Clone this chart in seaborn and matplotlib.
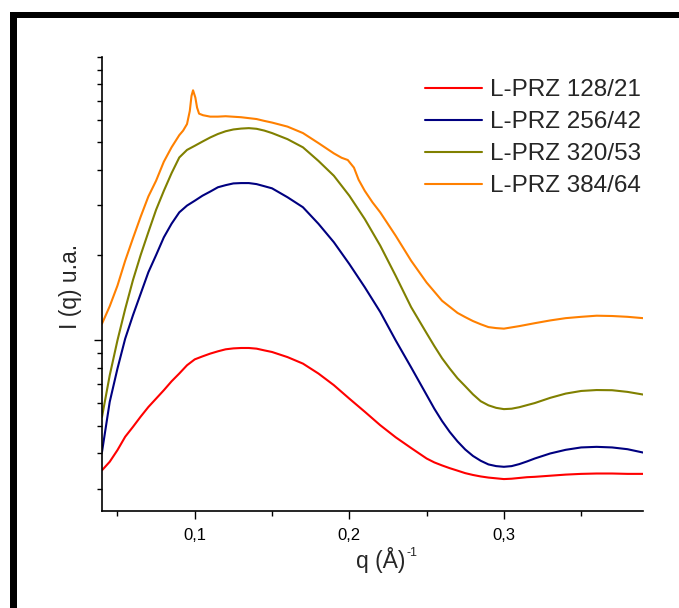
import numpy as np
import pandas as pd
import matplotlib
matplotlib.use("Agg")
import matplotlib.pyplot as plt
import seaborn as sns
from matplotlib.ticker import FixedLocator, NullFormatter
from matplotlib.patches import Rectangle

# ---------------- data (arbitrary units) ----------------
labels = ["L-PRZ 128/21", "L-PRZ 256/42", "L-PRZ 320/53", "L-PRZ 384/64"]
colors = ["#FF0000", "#000080", "#808000", "#FF8000"]

q_common = [0.04, 0.045, 0.05, 0.055, 0.06, 0.065, 0.07, 0.075, 0.08, 0.085, 0.09, 0.095,
            0.10, 0.105, 0.11, 0.115, 0.12, 0.125, 0.13, 0.135, 0.14, 0.145, 0.15,
            0.16, 0.17, 0.18, 0.19, 0.20, 0.21, 0.22, 0.23, 0.24, 0.25, 0.255, 0.26, 0.265, 0.27,
            0.275, 0.28, 0.285, 0.29, 0.295, 0.30, 0.305, 0.31, 0.315, 0.32,
            0.33, 0.34, 0.35, 0.36, 0.37, 0.38, 0.39]

I_128 = [0.348, 0.373, 0.410, 0.457, 0.495, 0.538, 0.582, 0.623, 0.667, 0.717, 0.764, 0.817,
         0.857, 0.878, 0.898, 0.915, 0.930, 0.937, 0.940, 0.940, 0.935, 0.922, 0.910,
         0.873, 0.828, 0.764, 0.695, 0.623, 0.560, 0.502, 0.455, 0.417, 0.383, 0.371, 0.362, 0.354, 0.347,
         0.340, 0.335, 0.331, 0.328, 0.326, 0.324, 0.325, 0.327, 0.329, 0.330,
         0.333, 0.336, 0.338, 0.339, 0.339, 0.338, 0.338]

I_256 = [0.404, 0.607, 0.795, 1.014, 1.225, 1.46, 1.74, 2.00, 2.31, 2.58, 2.83, 2.99,
         3.11, 3.24, 3.35, 3.47, 3.53, 3.58, 3.59, 3.59, 3.56, 3.50, 3.44,
         3.20, 2.95, 2.58, 2.22, 1.86, 1.54, 1.26, 1.00, 0.803, 0.642, 0.574, 0.519, 0.475, 0.440,
         0.412, 0.391, 0.376, 0.365, 0.360, 0.358, 0.360, 0.366, 0.374, 0.383,
         0.399, 0.411, 0.419, 0.421, 0.419, 0.413, 0.402]

I_320 = [0.537, 0.753, 1.00, 1.29, 1.63, 2.00, 2.41, 2.89, 3.37, 3.89, 4.42, 4.70,
         4.86, 5.03, 5.20, 5.35, 5.47, 5.55, 5.59, 5.61, 5.58, 5.50, 5.39,
         5.13, 4.80, 4.30, 3.81, 3.24, 2.68, 2.16, 1.69, 1.31, 1.06, 0.955, 0.865, 0.795, 0.735,
         0.689, 0.645, 0.610, 0.590, 0.578, 0.572, 0.574, 0.581, 0.591, 0.601,
         0.627, 0.649, 0.663, 0.668, 0.667, 0.658, 0.644]

q_384 = [0.04, 0.045, 0.05, 0.055, 0.06, 0.065, 0.07, 0.075, 0.08, 0.085,
         0.09, 0.0925, 0.095, 0.0968, 0.0979, 0.0989, 0.1004, 0.1015, 0.1028, 0.1054,
         0.11, 0.115, 0.12, 0.13, 0.14, 0.145, 0.15, 0.16, 0.17, 0.18,
         0.19, 0.195, 0.199, 0.203, 0.206, 0.21, 0.215, 0.22, 0.23, 0.24,
         0.25, 0.26, 0.27, 0.275, 0.28, 0.285, 0.29, 0.295, 0.30, 0.31,
         0.32, 0.33, 0.34, 0.35, 0.36, 0.37, 0.38, 0.39]
I_384 = [1.145, 1.32, 1.56, 1.91, 2.29, 2.73, 3.22, 3.66, 4.27, 4.80,
         5.30, 5.50, 5.80, 6.45, 7.29, 7.63, 7.19, 6.63, 6.31, 6.23,
         6.16, 6.16, 6.18, 6.13, 6.04, 5.95, 5.87, 5.68, 5.39, 4.97,
         4.57, 4.41, 4.33, 4.07, 3.69, 3.37, 3.07, 2.83, 2.34, 1.91,
         1.60, 1.38, 1.25, 1.208, 1.17, 1.14, 1.114, 1.105, 1.10, 1.123,
         1.15, 1.176, 1.198, 1.211, 1.222, 1.219, 1.211, 1.198]

x_ticks = [0.1, 0.2, 0.3]
x_ticklabels = ["0,1", "0,2", "0,3"]
x_minor = [0.05, 0.15, 0.25, 0.35]
y_major = [1.0]
y_minor = [0.3, 0.4, 0.5, 0.6, 0.7, 0.8, 0.9, 2, 3, 4, 5, 6, 7, 8, 9, 10]

# ---------------- build long-form table ----------------
df = pd.concat([
    pd.DataFrame({"q": q_common, "I": I_128, "sample": labels[0]}),
    pd.DataFrame({"q": q_common, "I": I_256, "sample": labels[1]}),
    pd.DataFrame({"q": q_common, "I": I_320, "sample": labels[2]}),
    pd.DataFrame({"q": q_384, "I": I_384, "sample": labels[3]}),
], ignore_index=True)

sns.set_style("ticks")
plt.rcParams['font.family'] = ['Liberation Sans', 'DejaVu Sans']

W, H = 679, 608
fig = plt.figure(figsize=(W / 100, H / 100), dpi=100)
x0, x1, y0, y1 = 102, 643, 57, 510.5
ax = fig.add_axes([x0 / W, 1 - y1 / H, (x1 - x0) / W, (y1 - y0) / H])

sns.lineplot(data=df, x="q", y="I", hue="sample", hue_order=labels,
             palette=colors, estimator=None, sort=True, lw=1.5, ax=ax)

ax.set_yscale("log")
ax.set_xlim(0.04, 0.39)
ax.set_ylim(0.251, 10.0)

ax.xaxis.set_major_locator(FixedLocator(x_ticks))
ax.set_xticklabels(x_ticklabels)
ax.xaxis.set_minor_locator(FixedLocator(x_minor))
ax.yaxis.set_major_locator(FixedLocator(y_major))
ax.yaxis.set_minor_locator(FixedLocator(y_minor))
ax.yaxis.set_major_formatter(NullFormatter())
ax.yaxis.set_minor_formatter(NullFormatter())

ax.tick_params(which="major", length=5.8, width=1.0, direction="out",
               labelsize=12, pad=6.8, colors="black")
ax.tick_params(which="minor", length=3.5, width=1.0, direction="out", colors="black")

for s in ["top", "right"]:
    ax.spines[s].set_visible(False)
for s in ["left", "bottom"]:
    ax.spines[s].set_linewidth(1.2)
    ax.spines[s].set_color("black")

ax.set_xlabel("q (Å)", fontsize=16.5)
ax.xaxis.set_label_coords((381 - x0) / (x1 - x0), -(547 - y1) / (y1 - y0))
ax.annotate("-1", xy=(1, 1), xycoords=ax.xaxis.label, xytext=(0.8, -0.3),
            textcoords="offset points", ha="left", va="top", fontsize=9)

ax.set_ylabel("I (q) u.a.", fontsize=16.5)
ax.yaxis.set_label_coords(-(x0 - 82) / (x1 - x0), 0.495)

ax.legend(frameon=False, loc="upper left", bbox_to_anchor=(0.597, 0.951),
          borderaxespad=0, borderpad=0, fontsize=17.5, handlelength=2.35,
          handletextpad=0.33, labelspacing=0.41)

# thick black frame (left and top)
fig.add_artist(Rectangle((9.5 / W, 0), 7 / W, 1 - 12.5 / H, transform=fig.transFigure,
                         facecolor="black", edgecolor="none"))
fig.add_artist(Rectangle((9.5 / W, 1 - 17.5 / H), 1 - 9.5 / W, 5 / H, transform=fig.transFigure,
                         facecolor="black", edgecolor="none"))

fig.savefig("out.png", dpi=100)
